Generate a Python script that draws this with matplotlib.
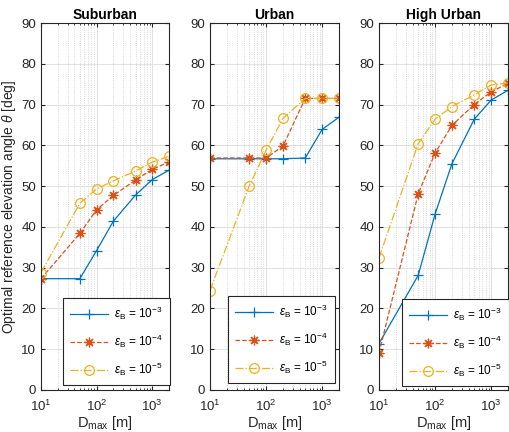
import numpy as np
import matplotlib
matplotlib.use('Agg')
import matplotlib.pyplot as plt
from matplotlib.ticker import LogLocator, NullFormatter

plt.rcParams['font.family'] = ['Liberation Sans', 'DejaVu Sans']
plt.rcParams['mathtext.fontset'] = 'custom'
plt.rcParams['mathtext.rm'] = 'Liberation Sans'
plt.rcParams['mathtext.it'] = 'Liberation Sans:italic'

d_max = [10, 50, 100, 200, 500, 1000, 2000]
titles = ['Suburban', 'Urban', 'High Urban']
labels = [r'$\epsilon_{\rm B}$ = 10$^{-3}$', r'$\epsilon_{\rm B}$ = 10$^{-4}$', r'$\epsilon_{\rm B}$ = 10$^{-5}$']

# theta [deg] per environment, per eps_B
suburban = [
    [27.3, 27.3, 34.2, 41.4, 47.8, 51.6, 53.9],
    [27.3, 38.4, 44.2, 47.7, 51.5, 54.1, 55.9],
    [28.8, 45.8, 49.3, 51.3, 53.7, 55.9, 57.3],
]
urban = [
    [56.7, 56.7, 56.7, 56.7, 56.9, 63.9, 66.9],
    [56.9, 56.9, 56.9, 59.8, 71.5, 71.5, 71.5],
    [24.4, 50.0, 58.8, 66.6, 71.5, 71.5, 71.5],
]
high_urban = [
    [11.4, 28.1, 43.1, 55.5, 66.4, 71.1, 73.5],
    [9.1, 48.1, 58.1, 64.9, 70.0, 73.1, 75.2],
    [32.4, 60.4, 66.4, 69.5, 72.4, 74.8, 75.3],
]
data = [suburban, urban, high_urban]

colors = ['#0072BD', '#D95319', '#EDB120']
styles = ['-', '--', '-.']
markers = ['+', (8, 2, 0), 'o']

fig = plt.figure(figsize=(5.09, 4.32), dpi=100)
W, H = 509, 432
boxes = [(41, 169), (210, 339), (379, 508)]
top, bottom = 23, 390
leg_boxes = [(63, 307, 163, 385), (228, 309, 328, 383), (402, 311, 503, 386)]

for i, (x0, x1) in enumerate(boxes):
    ax = fig.add_axes([x0 / W, 1 - bottom / H, (x1 - x0) / W, (bottom - top) / H])
    for j in range(3):
        ax.plot(d_max, data[i][j], color=colors[j], linestyle=styles[j], marker=markers[j],
                markersize=7, markerfacecolor='none', markeredgewidth=0.9, linewidth=0.9,
                label=labels[j])
    ax.set_xscale('log')
    ax.set_xlim(10, 2000)
    ax.set_ylim(0, 90)
    ax.set_yticks(np.arange(0, 91, 10))
    ax.xaxis.set_major_locator(LogLocator(base=10, numticks=10))
    ax.xaxis.set_minor_locator(LogLocator(base=10, subs=np.arange(2, 10), numticks=10))
    ax.xaxis.set_minor_formatter(NullFormatter())
    ax.grid(True, which='major', color='#dcdcdc', linewidth=0.6)
    ax.grid(True, which='minor', axis='x', color='#c8c8c8', linestyle=':', linewidth=0.6)
    ax.set_axisbelow(True)
    ax.tick_params(which='both', direction='in', top=True, right=True, labelsize=9.5,
                   colors='#262626', labelcolor='#262626')
    ax.tick_params(which='major', length=3)
    ax.tick_params(which='minor', length=1.5)
    ax.tick_params(axis='x', which='major', pad=6)
    for s in ax.spines.values():
        s.set_color('#262626')
        s.set_linewidth(0.8)
    ax.set_title(titles[i], fontsize=10, fontweight='bold', pad=3)
    ax.set_xlabel(r'D$_{\rm max}$ [m]', fontsize=10.5, labelpad=0, color='#262626')
    if i == 0:
        ax.set_ylabel(r'Optimal reference elevation angle $\theta$ [deg]', fontsize=10,
                      labelpad=2, color='#262626')
    lx0, ly0, lx1, ly1 = leg_boxes[i]
    ax_x0 = (lx0 - x0) / (x1 - x0)
    ax_y0 = (bottom - ly1) / (bottom - top)
    leg = ax.legend(loc='lower left', bbox_to_anchor=(ax_x0, ax_y0), fontsize=8.5,
                    fancybox=False, edgecolor='#262626', framealpha=1, borderaxespad=0,
                    handlelength=3.2, labelspacing=0.9, borderpad=0.6, handletextpad=0.5)
    leg.get_frame().set_linewidth(0.8)

fig.savefig('out.png', dpi=100)
